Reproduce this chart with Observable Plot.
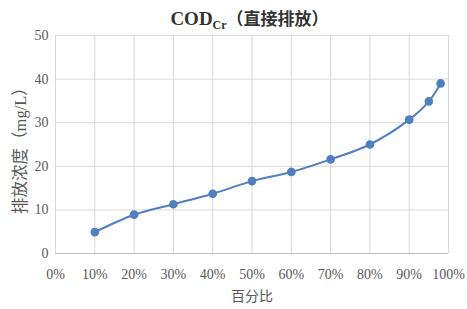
<!DOCTYPE html>
<html><head><meta charset="utf-8">
<script src="https://cdn.jsdelivr.net/npm/d3@7"></script>
<script src="https://cdn.jsdelivr.net/npm/@observablehq/plot@0.6"></script>
<style>
body{margin:0;background:#fff;width:467px;height:309px;overflow:hidden;}
#title{height:26px;width:467px;padding-left:32px;box-sizing:border-box;text-align:center;font-family:"Liberation Serif","Noto Sans CJK SC",serif;font-weight:bold;font-size:19px;line-height:36px;color:#333;white-space:nowrap;overflow:visible;}
#title sub{font-size:12px;vertical-align:-4px;line-height:0;}
#title .cjk{font-family:"Noto Sans CJK SC",sans-serif;font-weight:bold;font-size:17px;}
</style></head>
<body>
<div id="title">COD<sub>Cr</sub><span class="cjk">（直接排放）</span></div>
<div id="chart"></div>
<script>
const percentiles = [10, 20, 30, 40, 50, 60, 70, 80, 90, 95, 98];
const concentrations = [4.9, 8.9, 11.3, 13.7, 16.6, 18.7, 21.6, 25.0, 30.7, 34.9, 39.0];
const xTicks = [0, 10, 20, 30, 40, 50, 60, 70, 80, 90, 100];
const yTicks = [0, 10, 20, 30, 40, 50];
const xLabel = "百分比";
const yLabel = "排放浓度（mg/L）";

const data = percentiles.map((p, i) => ({p, c: concentrations[i]}));
const blue = "#4f7fbf";
const chart = Plot.plot({
  width: 467,
  height: 283,
  marginLeft: 55,
  marginRight: 19,
  marginTop: 9,
  marginBottom: 56,
  style: {fontFamily: "'Liberation Serif', 'Noto Sans CJK SC', serif", fontSize: "14px", color: "#595959", background: "transparent", overflow: "visible"},
  x: {domain: [0, 100], ticks: xTicks, tickFormat: d => d + "%", tickSize: 0, tickPadding: 16, label: null},
  y: {domain: [0, 50], ticks: yTicks, tickSize: 0, tickPadding: 7, label: null},
  marks: [
    Plot.gridX(xTicks, {stroke: "#d9d9d9", strokeOpacity: 1}),
    Plot.gridY(yTicks, {stroke: "#d9d9d9", strokeOpacity: 1}),
    Plot.ruleY([0], {stroke: "#bfbfbf"}),
    Plot.axisX({ticks: xTicks, tickFormat: d => d + "%", tickSize: 0, tickPadding: 16, label: null}),
    Plot.axisY({ticks: yTicks, tickSize: 0, tickPadding: 7, label: null}),
    Plot.text([xLabel], {frameAnchor: "bottom", dy: 47, fontFamily: "'Noto Sans CJK SC', sans-serif", fontSize: 14, fill: "#595959"}),
    Plot.text([yLabel], {frameAnchor: "left", textAnchor: "middle", dx: -35, dy: 2, rotate: -90, fontFamily: "'Liberation Serif', 'Noto Sans CJK SC', serif", fontSize: 16.5, fill: "#595959"}),
    Plot.line(data, {x: "p", y: "c", curve: "catmull-rom", stroke: blue, strokeWidth: 2}),
    Plot.dot(data, {x: "p", y: "c", r: 3.6, fill: blue, stroke: blue})
  ]
});
document.getElementById("chart").appendChild(chart);
</script>
</body></html>
